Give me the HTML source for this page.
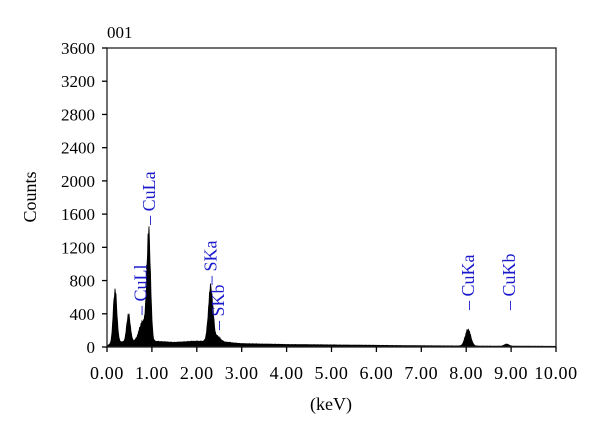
<!DOCTYPE html>
<html><head><meta charset="utf-8"><style>
html,body{margin:0;padding:0;background:#fff}
svg{display:block}
text{font-family:"Liberation Serif",serif;fill:#000}
.lbl{fill:#1a1acc;font-size:18px}
</style></head><body>
<svg width="600" height="435" viewBox="0 0 600 435">
<g id="plot"></g>
</svg>
<script>
const yTicks=[0,400,800,1200,1600,2000,2400,2800,3200,3600];
const xTicks=[0,1,2,3,4,5,6,7,8,9,10];
const peakEnergy=[0.18,0.48,0.80,0.93,2.31,2.47,8.04,8.90];
const peakCounts=[640,330,240,1250,660,60,200,25];
const peakWidth=[0.04,0.04,0.08,0.04,0.05,0.06,0.06,0.05];
const bgEnergy=[0,0.3,1.0,1.5,2.0,2.6,3.0,4.0,5.0,6.0,7.0,8.0,9.0,10.0];
const bgCounts=[20,60,70,55,70,60,40,30,25,20,15,12,10,8];
const peakLabels=["CuLl","CuLa","SKa","SKb","CuKa","CuKb"];
const labelEnergy=[0.75,0.93,2.31,2.47,8.04,8.95];
const labelBase=[385,1470,746,205,445,445];

const X0=107,X1=556,Y0=347,Y1=48;
const sx=e=>X0+(e-0)/(10-0)*(X1-X0);
const sy=c=>Y0-(c/3600)*(Y0-Y1);
const ns="http://www.w3.org/2000/svg";
const svg=document.querySelector("svg"),g=document.getElementById("plot");
function mk(t,a,p){const el=document.createElementNS(ns,t);for(const k in a)el.setAttribute(k,a[k]);(p||g).appendChild(el);return el;}
function bg(e){for(let i=0;i<bgEnergy.length-1;i++){if(e<=bgEnergy[i+1]){const t=(e-bgEnergy[i])/(bgEnergy[i+1]-bgEnergy[i]);return bgCounts[i]+t*(bgCounts[i+1]-bgCounts[i]);}}return bgCounts[bgCounts.length-1];}
function spec(e){let v=bg(e);for(let i=0;i<peakEnergy.length;i++){const d=(e-peakEnergy[i])/peakWidth[i];v+=peakCounts[i]*Math.exp(-0.5*d*d);}return v;}
let d="M"+sx(0)+","+sy(0);
for(let px=X0;px<=X1;px+=0.5){const e=(px-X0)/(X1-X0)*10;const jitter=((px*7919)%13)/13*0.15+0.925;d+=" L"+px.toFixed(1)+","+sy(spec(e)*jitter).toFixed(1);}
d+=" L"+X1+","+sy(0)+" Z";
const area=mk("path",{d:d,fill:"#000",stroke:"#000","stroke-width":0.8});


const fr=mk("rect",{x:X0,y:Y1,width:X1-X0,height:Y0-Y1,fill:"none",stroke:"#222","stroke-width":1.3});


yTicks.forEach(v=>{
 mk("line",{x1:X0-5,x2:X0,y1:sy(v),y2:sy(v),stroke:"#000","stroke-width":1.3});
 const t=mk("text",{x:95,y:sy(v)+6,"text-anchor":"end","font-size":17});t.textContent=v;
 
 
});
xTicks.forEach(v=>{
 mk("line",{x1:sx(v),x2:sx(v),y1:Y0,y2:Y0+5,stroke:"#000","stroke-width":1.3});
 const t=mk("text",{x:sx(v),y:379,"text-anchor":"middle","font-size":18,"letter-spacing":"0.6"});t.textContent=v.toFixed(2);
 
 
});
peakLabels.forEach((s,i)=>{
 const x=sx(labelEnergy[i])+6,y=sy(labelBase[i]);
 const t=mk("text",{class:"lbl",transform:"translate("+x+","+y+") rotate(-90)"});t.textContent="– "+s;
 
 
});
const yt=mk("text",{"font-size":18,transform:"translate(36,197) rotate(-90)","text-anchor":"middle"});yt.textContent="Counts";


const xt=mk("text",{x:331,y:410,"font-size":18,"text-anchor":"middle"});xt.textContent="(keV)";


const tt=mk("text",{x:107,y:38,"font-size":17});tt.textContent="001";


</script>
</body></html>
